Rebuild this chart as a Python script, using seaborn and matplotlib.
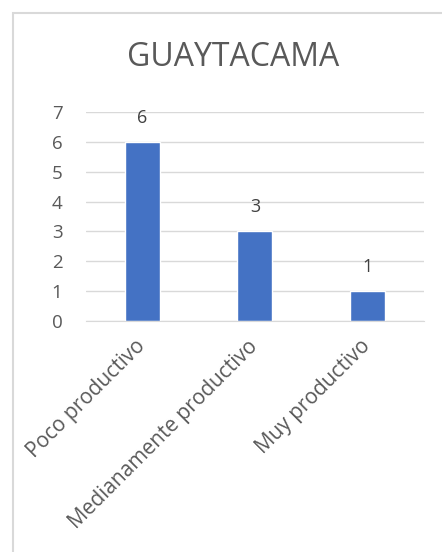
import matplotlib
matplotlib.use('Agg')
import matplotlib.pyplot as plt
import seaborn as sns
import pandas as pd
from matplotlib.patches import Rectangle

# data
categorias = ['Poco productivo', 'Medianamente productivo', 'Muy productivo']
valores = [6, 3, 1]
titulo = 'GUAYTACAMA'

df = pd.DataFrame({'categoria': categorias, 'valor': valores})

sns.set_style('white')
plt.rcParams['font.family'] = ['Open Sans', 'DejaVu Sans']

gris = '#595959'
fig = plt.figure(figsize=(4.42, 5.52), dpi=100)
ax = fig.add_axes([0.1946, 0.4185, 0.7644, 0.3787])

sns.barplot(data=df, x='categoria', y='valor', color='#4472C4', width=0.31,
            saturation=1, ax=ax)
ax.bar_label(ax.containers[0], labels=[str(v) for v in valores], padding=11,
             fontsize=13, color='#404040')

ax.set_ylim(0, 7)
ax.set_yticks(range(0, 8))
ax.yaxis.grid(True, color='#d9d9d9', linewidth=1)
ax.set_axisbelow(True)
for s in ['top', 'right', 'left']:
    ax.spines[s].set_visible(False)
ax.spines['bottom'].set_color('#d9d9d9')
ax.tick_params(axis='y', length=0, labelsize=13.5, colors=gris, pad=17)
ax.tick_params(axis='x', length=0, labelsize=15, colors=gris, pad=16)
plt.setp(ax.get_xticklabels(), rotation=45, ha='right', va='center',
         rotation_mode='anchor')
ax.set_xlabel('')
ax.set_ylabel('')

fig.text(0.527, 0.895, titulo, ha='center', va='center', fontsize=23, color=gris)

# chart border
fig.patches.append(Rectangle((13 / 442, -0.1), 1.2, 1.1 - 13 / 552,
                             transform=fig.transFigure, fill=False,
                             edgecolor='#d9d9d9', linewidth=1.5))

fig.savefig('out.png', dpi=100)
